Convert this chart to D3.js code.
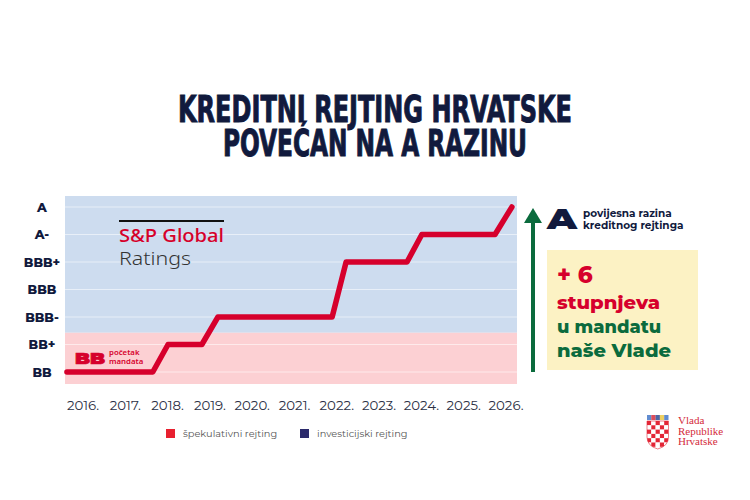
<!DOCTYPE html>
<html><head><meta charset="utf-8">
<script src="https://cdn.jsdelivr.net/npm/d3@7"></script>
<style>
html,body{margin:0;padding:0;background:#fff;}
svg{display:block;}
</style></head>
<body>
<script>
// ---- data ----
const ratings = ["BB","BB+","BBB-","BBB","BBB+","A-","A"];
const speculative = ["BB","BB+"];
const years = [2016,2017,2018,2019,2020,2021,2022,2023,2024,2025,2026];
const yearLabels = years.map(y => y + ".");
// rating path (time in fractional years, rating)
const pathTimes = [2015.62, 2017.65, 2018.01, 2018.81, 2019.19, 2021.89, 2022.22, 2023.66, 2024.01, 2025.74, 2026.14];
const pathRatings = ["BB","BB","BB+","BB+","BBB-","BBB-","BBB+","BBB+","A-","A-","A"];
const legendLabels = ["špekulativni rejting","investicijski rejting"];
const legendColors = ["#e8202f","#2b2a6b"];
const titleLines = ["KREDITNI REJTING HRVATSKE","POVEĆAN NA A RAZINU"];

const W = 750, H = 500;
const navy = "#111a3d", red = "#d6002c", green = "#0b6b3d";
const svg = d3.select("body").append("svg").attr("width", W).attr("height", H);

const plot = {l:65, r:517, t:196, b:384};
const x = d3.scaleLinear().domain([2016, 2026]).range([83, 506]);
const y = d3.scalePoint().domain(ratings).range([372, 207]);

// backgrounds
const boundary = (y("BB+") + y("BBB-")) / 2 + 2;
svg.append("rect").attr("x", plot.l).attr("y", plot.t).attr("width", plot.r - plot.l)
  .attr("height", boundary - plot.t).attr("fill", "#cddcef");
svg.append("rect").attr("x", plot.l).attr("y", boundary).attr("width", plot.r - plot.l)
  .attr("height", plot.b - boundary).attr("fill", "#fcd0d3");

// gridlines
svg.append("g").selectAll("line").data(ratings).join("line")
  .attr("x1", plot.l).attr("x2", plot.r)
  .attr("y1", d => y(d)).attr("y2", d => y(d))
  .attr("stroke", "#ffffff").attr("stroke-opacity", 0.55).attr("stroke-width", 1.2);

// y labels
svg.append("g").selectAll("text").data(ratings).join("text")
  .attr("x", 42).attr("y", d => y(d)).attr("dy", "0.36em")
  .attr("text-anchor", "middle")
  .attr("font-family", "Montserrat, 'Noto Sans', sans-serif").attr("font-weight", 800)
  .attr("font-size", 12.5).attr("fill", navy).text(d => d);

// x labels
svg.append("g").selectAll("text").data(years).join("text")
  .attr("x", d => x(d)).attr("y", 410)
  .attr("text-anchor", "middle")
  .attr("font-family", "Montserrat, 'Noto Sans', sans-serif").attr("font-weight", 400)
  .attr("font-size", 13.3).attr("fill", "#2c3045")
  .text((d, i) => yearLabels[i]);

// S&P logo
svg.append("line").attr("x1", 119).attr("x2", 224).attr("y1", 221).attr("y2", 221)
  .attr("stroke", "#111").attr("stroke-width", 2.2);
svg.append("text").attr("x", 119).attr("y", 242).attr("font-family", "'Noto Sans', sans-serif")
  .attr("font-weight", 500).attr("font-size", 17.5).attr("fill", "#d6002a")
  .attr("textLength", 105).attr("lengthAdjust", "spacingAndGlyphs").text("S&P Global");
svg.append("text").attr("x", 119).attr("y", 265).attr("font-family", "'Noto Sans', sans-serif")
  .attr("font-weight", 300).attr("font-size", 17.5).attr("fill", "#333")
  .attr("textLength", 72).attr("lengthAdjust", "spacingAndGlyphs").text("Ratings");

// BB početak mandata
svg.append("text").attr("x", 75).attr("y", 363.5).attr("font-family", "Montserrat, 'Noto Sans', sans-serif")
  .attr("font-weight", 900).attr("font-size", 15.5).attr("fill", red)
  .attr("stroke", red).attr("stroke-width", 0.7)
  .attr("textLength", 30).attr("lengthAdjust", "spacingAndGlyphs").text("BB");
svg.append("text").attr("x", 109).attr("y", 355).attr("font-family", "'Noto Sans', sans-serif")
  .attr("font-weight", 600).attr("font-size", 7.8).attr("fill", red).text("početak");
svg.append("text").attr("x", 109).attr("y", 364).attr("font-family", "'Noto Sans', sans-serif")
  .attr("font-weight", 600).attr("font-size", 7.8).attr("fill", red).text("mandata");

// rating line
const pts = pathTimes.map((t, i) => [t, pathRatings[i]]);
const line = d3.line().x(d => x(d[0])).y(d => y(d[1]));
svg.append("path").attr("d", line(pts)).attr("fill", "none")
  .attr("stroke", red).attr("stroke-width", 5.5)
  .attr("stroke-linejoin", "round").attr("stroke-linecap", "round");

// green arrow
svg.append("line").attr("x1", 533).attr("x2", 533).attr("y1", 372).attr("y2", 220)
  .attr("stroke", green).attr("stroke-width", 4);
svg.append("path").attr("d", "M524,223 L533,208 L542,223 Z").attr("fill", green);

// A annotation
svg.append("text").attr("x", 547).attr("y", 229).attr("font-family", "Montserrat, 'Noto Sans', sans-serif")
  .attr("font-weight", 900).attr("font-size", 29).attr("fill", navy)
  .attr("textLength", 30).attr("lengthAdjust", "spacingAndGlyphs").text("A");
svg.append("text").attr("x", 583).attr("y", 217).attr("font-family", "Montserrat, 'Noto Sans', sans-serif")
  .attr("font-weight", 700).attr("font-size", 10.5).attr("fill", navy).text("povijesna razina");
svg.append("text").attr("x", 583).attr("y", 229).attr("font-family", "Montserrat, 'Noto Sans', sans-serif")
  .attr("font-weight", 700).attr("font-size", 10.5).attr("fill", navy).text("kreditnog rejtinga");

// yellow box
svg.append("rect").attr("x", 547).attr("y", 250).attr("width", 151).attr("height", 120).attr("fill", "#fcf2c4");
const boxFont = "Montserrat, 'Noto Sans', sans-serif";
svg.append("text").attr("x", 557).attr("y", 283).attr("font-family", boxFont).attr("font-weight", 800)
  .attr("font-size", 23).attr("fill", red).text("+ 6");
svg.append("text").attr("x", 557).attr("y", 309).attr("font-family", boxFont).attr("font-weight", 800)
  .attr("font-size", 18).attr("fill", red).attr("textLength", 103).attr("lengthAdjust", "spacingAndGlyphs").text("stupnjeva");
svg.append("text").attr("x", 557).attr("y", 333).attr("font-family", boxFont).attr("font-weight", 800)
  .attr("font-size", 18).attr("fill", green).attr("textLength", 104).attr("lengthAdjust", "spacingAndGlyphs").text("u mandatu");
svg.append("text").attr("x", 557).attr("y", 357).attr("font-family", boxFont).attr("font-weight", 800)
  .attr("font-size", 18).attr("fill", green).attr("textLength", 114).attr("lengthAdjust", "spacingAndGlyphs").text("naše Vlade");

// title
const titleWidths = [394, 304];
const titleBase = [122, 156];
svg.append("g").selectAll("text").data(titleLines).join("text")
  .attr("x", 375).attr("y", (d, i) => titleBase[i]).attr("text-anchor", "middle")
  .attr("font-family", "'DejaVu Sans Condensed', 'DejaVu Sans', sans-serif").attr("font-weight", 700)
  .attr("font-size", 38).attr("fill", navy)
  .attr("textLength", (d, i) => titleWidths[i]).attr("lengthAdjust", "spacingAndGlyphs")
  .attr("stroke", navy).attr("stroke-width", 1)
  .text(d => d);

// legend
const lg = svg.append("g");
const legendX = [166, 300];
lg.selectAll("rect").data(legendLabels).join("rect")
  .attr("x", (d, i) => legendX[i]).attr("y", 429).attr("width", 9).attr("height", 9)
  .attr("fill", (d, i) => legendColors[i]);
lg.selectAll("text").data(legendLabels).join("text")
  .attr("x", (d, i) => legendX[i] + 17).attr("y", 437)
  .attr("font-family", "Montserrat, 'Noto Sans', sans-serif").attr("font-size", 9.8).attr("fill", "#555")
  .text(d => d);

// Vlada logo
const logo = svg.append("g");
const crownCols = ["#3a6fc4","#d4202f","#1f3f8f","#e8c33a","#3a6fc4"];
crownCols.forEach((c, i) => {
  logo.append("rect").attr("x", 647 + i * 4.3).attr("y", 415).attr("width", 4.3).attr("height", 5).attr("fill", c).attr("opacity", 0.8);
});
const shield = logo.append("g");
const cs = 4.3;
for (let r = 0; r < 6; r++) for (let c = 0; c < 5; c++) {
  shield.append("rect").attr("x", 647 + c * cs).attr("y", 421 + r * cs).attr("width", cs).attr("height", cs)
    .attr("fill", (r + c) % 2 === 0 ? "#e32636" : "#fff");
}
const clipPath = "M647,421 L668.5,421 L668.5,437 Q668.5,446 657.75,449 Q647,446 647,437 Z";
svg.append("clipPath").attr("id", "shieldclip").append("path").attr("d", clipPath);
shield.attr("clip-path", "url(#shieldclip)");
logo.append("path").attr("d", clipPath).attr("fill", "none").attr("stroke", "#e32636").attr("stroke-width", 0.6);
["Vlada","Republike","Hrvatske"].forEach((t, i) => {
  logo.append("text").attr("x", 678).attr("y", 424 + i * 10.5)
    .attr("font-family", "'Liberation Serif', serif").attr("font-size", 11).attr("fill", "#d42a3a").text(t);
});
</script>
</body></html>
